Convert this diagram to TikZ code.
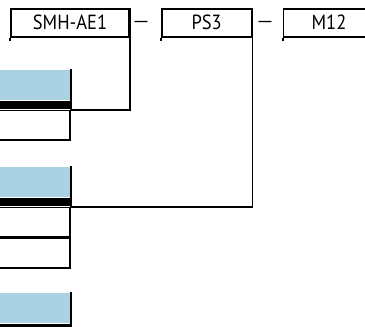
\documentclass[tikz,border=0pt]{standalone}
\usepackage{fontspec}
\setsansfont[FakeStretch=0.9]{PT Sans}
\newfontfamily\dashfont{Liberation Sans}
\definecolor{hdrblue}{RGB}{170,210,226}

\begin{document}
\begin{tikzpicture}[x=1pt,y=-1pt,
		line width=1.6pt,
		part/.style={draw,minimum height=28pt,inner sep=0pt,font=\sffamily\fontsize{20.5}{22}\selectfont},
		dashsign/.style={inner sep=0pt,font=\dashfont\bfseries\fontsize{13}{15}\selectfont},
		hdr/.style={fill=hdrblue,minimum width=120pt,minimum height=30pt,inner sep=0pt,anchor=north east},
		rule/.style={fill=black,minimum width=120pt,minimum height=7.5pt,inner sep=0pt,anchor=north east},
		cell/.style={draw,minimum width=120pt,minimum height=29.5pt,inner sep=0pt,anchor=north east}
	]
	\useasboundingbox (0,0) rectangle (365,327);
	\clip (0,0) rectangle (365,327);

	% type code boxes
	\node[part,minimum width=118.5pt] (smh) at (70,22.7) {SMH-AE1\hspace{5pt}};
	\node[dashsign] (d1) at (141,23) {—};
	\node[part,minimum width=90pt] (ps) at (206.7,22.7) {PS3\hspace{12pt}};
	\node[dashsign] (d2) at (265,23) {—};
	\node[part,minimum width=91pt] (m) at (329,22.7) {M12\hspace{10pt}};
	\draw (smh.south west) -- ++(0,3.5);
	\draw (ps.south west) -- ++(0,3.5);
	\draw (m.south west) -- ++(0,3.5);

	% tables
	\node[hdr] (h1) at (71,69) {};
	\node[rule] (r1) at (h1.south east) {};
	\node[cell] (c1) at (r1.south east) {};
	\draw (h1.north east) -- (c1.north east);

	\node[hdr] (h2) at (71,166) {};
	\node[rule] (r2) at (h2.south east) {};
	\node[cell] (c2a) at (r2.south east) {};
	\node[cell] (c2b) at (c2a.south east) {};
	\draw (h2.north east) -- (c2a.north east);

	\node[hdr] (h3) at (71,291.7) {};
	\node[rule] (r3) at (h3.south east) {};
	\draw (h3.north east) -- (r3.south east);

	% connectors
	\draw (smh.north east) |- (r1.south east);
	\draw (ps.north east) |- (r2.south east);
\end{tikzpicture}
\end{document}
